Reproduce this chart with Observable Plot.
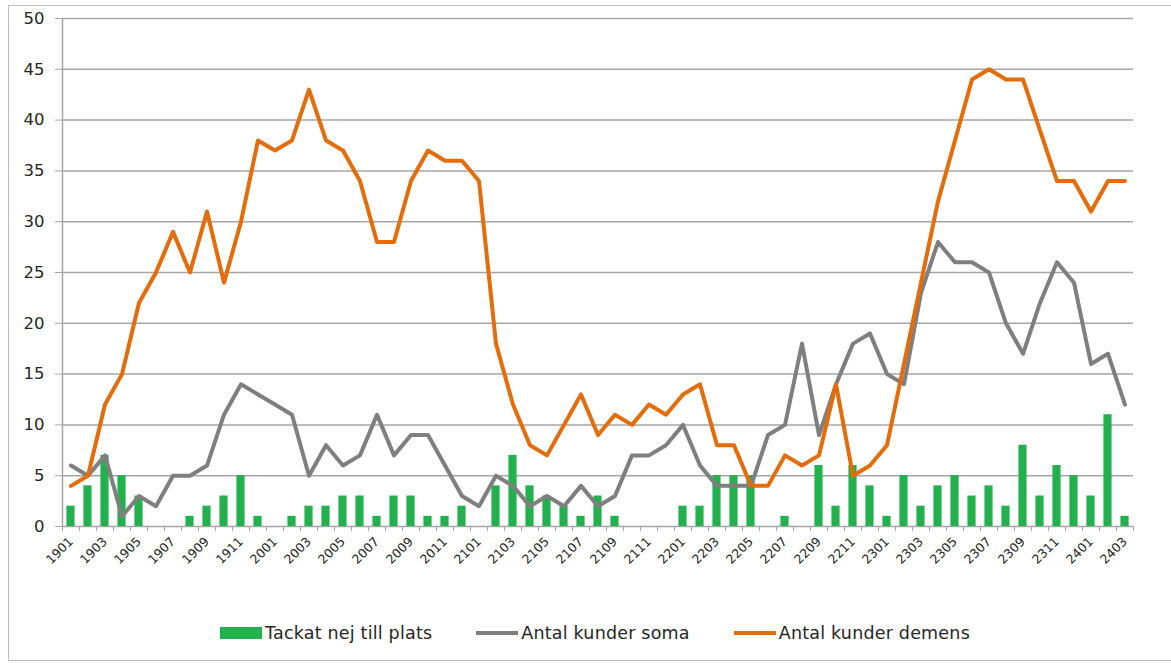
<!DOCTYPE html>
<html><head><meta charset="utf-8">
<script src="https://cdn.jsdelivr.net/npm/d3@7"></script>
<script src="https://cdn.jsdelivr.net/npm/@observablehq/plot@0.6"></script>
<style>
body{margin:0;background:#fff;font-family:"DejaVu Sans",sans-serif;}
#frame{position:absolute;left:8px;top:5px;width:1180px;height:654px;border:1px solid #bfbfbf;background:#fff;}
#chart{position:absolute;left:0;top:0;}
#legend{position:absolute;left:211px;top:617px;display:flex;align-items:center;gap:44px;font-size:17.5px;letter-spacing:0.2px;color:#262626;white-space:nowrap;}
.item{display:flex;align-items:center;gap:3px;}
.sw-bar{width:42px;height:12px;background:#22b14c;}
.sw-line{width:42px;height:4px;}
</style></head><body>
<div id="frame"><div id="chart"></div>
<div id="legend">
  <div class="item"><span class="sw-bar"></span><span>Tackat nej till plats</span></div>
  <div class="item"><span class="sw-line" style="background:#7f7f7f"></span><span>Antal kunder soma</span></div>
  <div class="item"><span class="sw-line" style="background:#e46c0a"></span><span>Antal kunder demens</span></div>
</div></div>
<script>
const months = [
  "1901","1902","1903","1904","1905","1906","1907","1908","1909","1910","1911","1912",
  "2001","2002","2003","2004","2005","2006","2007","2008","2009","2010","2011","2012",
  "2101","2102","2103","2104","2105","2106","2107","2108","2109","2110","2111","2112",
  "2201","2202","2203","2204","2205","2206","2207","2208","2209","2210","2211","2212",
  "2301","2302","2303","2304","2305","2306","2307","2308","2309","2310","2311","2312",
  "2401","2402","2403"
];
const tackat = [
  2,4,7,5,3,0,0,1,2,3,5,1,
  0,1,2,2,3,3,1,3,3,1,1,2,
  0,4,7,4,3,2,1,3,1,0,0,0,
  2,2,5,5,5,0,1,0,6,2,6,4,
  1,5,2,4,5,3,4,2,8,3,6,5,
  3,11,1
];
const soma = [
  6,5,7,1,3,2,5,5,6,11,14,13,
  12,11,5,8,6,7,11,7,9,9,6,3,
  2,5,4,2,3,2,4,2,3,7,7,8,
  10,6,4,4,4,9,10,18,9,14,18,19,
  15,14,23,28,26,26,25,20,17,22,26,24,
  16,17,12
];
const demens = [
  4,5,12,15,22,25,29,25,31,24,30,38,
  37,38,43,38,37,34,28,28,34,37,36,36,
  34,18,12,8,7,10,13,9,11,10,12,11,
  13,14,8,8,4,4,7,6,7,14,5,6,
  8,16,24,32,38,44,45,44,44,39,34,34,
  31,34,34
];
const yTicks = [0,5,10,15,20,25,30,35,40,45,50];

const data = months.map((m, i) => ({i, m, tackat: tackat[i], soma: soma[i], demens: demens[i]}));
const n = months.length;

const chart = Plot.plot({
  width: 1162, height: 580,
  marginLeft: 53, marginRight: 38, marginTop: 12, marginBottom: 60,
  style: {fontFamily: "'DejaVu Sans', sans-serif", color: "#262626", background: "white", overflow: "visible"},
  x: {type: "linear", domain: [-0.5, n - 0.5]},
  y: {domain: [0, 50]},
  marks: [
    Plot.ruleY(yTicks, {stroke: "#a6a6a6", strokeWidth: 1.5}),
    Plot.ruleX([-0.5], {stroke: "#a6a6a6", strokeWidth: 1.5}),
    Plot.axisY({ticks: yTicks, tickSize: 7, tickPadding: 11, stroke: "#a6a6a6", fontSize: 16.5, label: null}),
    Plot.axisX({ticks: d3.range(-0.5, n, 1), tickFormat: () => "", tickSize: 5, stroke: "#a6a6a6", label: null}),
    Plot.axisX({ticks: d3.range(0, n, 2), tickFormat: i => months[i], tickSize: 0, tickPadding: 13, tickRotate: -45, fontSize: 12.5, label: null}),
    Plot.rectY(data, {x1: d => d.i - 0.24, x2: d => d.i + 0.24, y: "tackat", fill: "#22b14c"}),
    Plot.line(data, {x: "i", y: "soma", stroke: "#7f7f7f", strokeWidth: 4, strokeLinejoin: "round"}),
    Plot.line(data, {x: "i", y: "demens", stroke: "#e46c0a", strokeWidth: 4, strokeLinejoin: "round"})
  ]
});
document.getElementById("chart").appendChild(chart);
</script>
</body></html>
